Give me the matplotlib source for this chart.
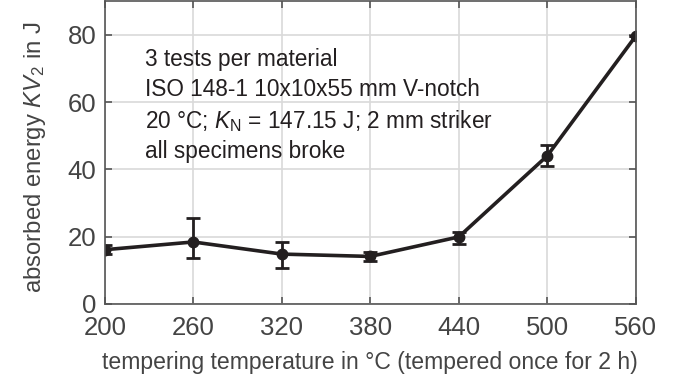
import matplotlib
matplotlib.use("Agg")
import matplotlib.pyplot as plt
import numpy as np

# tempering temperature (°C) vs. absorbed energy KV2 (J), mean with min/max
temps = [200, 260, 320, 380, 440, 500, 560]
energy = [16.1, 18.4, 14.8, 14.1, 19.9, 44.0, 79.6]
err_low = [1.4, 4.7, 4.0, 1.4, 2.2, 3.0, 0.0]
err_high = [1.4, 7.2, 3.5, 1.3, 1.5, 3.1, 0.0]

plt.rcParams['font.family'] = ['Liberation Sans', 'DejaVu Sans']
plt.rcParams['mathtext.fontset'] = 'custom'
plt.rcParams['mathtext.rm'] = 'Liberation Sans'
plt.rcParams['mathtext.it'] = 'Liberation Sans:italic'

fig = plt.figure(figsize=(6.85, 3.77), dpi=100)
ax = fig.add_axes([0.153, 0.194, 0.775, 0.803])

ax.errorbar(temps, energy, yerr=[err_low, err_high], color='#231f20',
            lw=2.6, marker='o', ms=7.5, capsize=5, capthick=2, elinewidth=2)

ax.set_xlim(200, 560)
ax.set_ylim(0, 90)
ax.set_xticks(temps)
ax.set_yticks([0, 20, 40, 60, 80])
ax.grid(True, color='#d9d9d9', lw=1.2)
ax.set_axisbelow(True)
for s in ax.spines.values():
    s.set_color('#555555')
    s.set_linewidth(1.2)
ax.tick_params(direction='in', top=True, right=True, length=5, width=1.2,
               color='#555555', labelcolor='#444444', labelsize=18.5)
ax.tick_params(axis='x', pad=9)
ax.tick_params(axis='y', pad=6)

ax.set_xlabel('tempering temperature in °C (tempered once for 2 h)',
              fontsize=16.6, color='#444444', labelpad=8)
ax.set_ylabel(r'absorbed energy $\mathit{KV}_2$ in J', fontsize=17.2,
              color='#444444')
ax.yaxis.set_label_coords(-0.107, 0.485)

note = ('3 tests per material\n'
        'ISO 148-1 10x10x55 mm V-notch\n'
        r'20 °C; $\mathit{K}_\mathrm{N}$ = 147.15 J; 2 mm striker' + '\n'
        'all specimens broke')
ax.text(0.075, 0.845, note, transform=ax.transAxes, va='top', ha='left',
        fontsize=16.3, color='#231f20', linespacing=1.36)

fig.savefig('out.png', dpi=100)
